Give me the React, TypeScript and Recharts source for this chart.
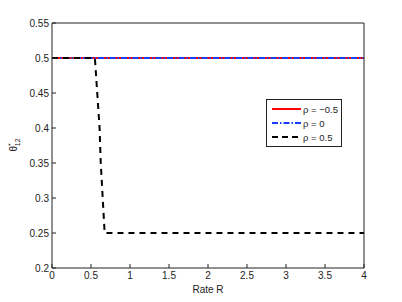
import { Line, LineChart, XAxis, YAxis, Legend, Label } from "recharts";

const rate = [0, 4];
const rhoNeg = [0.5, 0.5];
const rhoZero = [0.5, 0.5];
const rateBlack = [0, 0.55, 0.58, 0.61, 0.625, 0.65, 0.675, 4];
const rhoPos = [0.5, 0.5, 0.45, 0.4, 0.35, 0.3, 0.25, 0.25];
const xTicks = [0, 0.5, 1, 1.5, 2, 2.5, 3, 3.5, 4];
const yTicks = [0.2, 0.25, 0.3, 0.35, 0.4, 0.45, 0.5, 0.55];

const redData = rate.map((r, i) => ({ r, v: rhoNeg[i] }));
const blueData = rate.map((r, i) => ({ r, v: rhoZero[i] }));
const blackData = rateBlack.map((r, i) => ({ r, v: rhoPos[i] }));

const font = "'Liberation Sans', Arial, sans-serif";
const tickStyle = { fontSize: 10, fill: "#222", fontFamily: font };

const legendItems = [
  { label: "ρ = −0.5", color: "#ff0000", dash: undefined },
  { label: "ρ = 0", color: "#1a3cff", dash: "6 2 1.5 2" },
  { label: "ρ = 0.5", color: "#000", dash: "6 4" },
];

function LegendBox() {
  return (
    <div
      style={{
        border: "1px solid #222",
        background: "#fff",
        width: 74,
        height: 44,
        boxSizing: "content-box",
        padding: "2px 0 0 0",
        fontFamily: font,
        fontSize: 9.5,
        color: "#222",
        whiteSpace: "nowrap",
      }}
    >
      {legendItems.map((it) => (
        <div key={it.label} style={{ display: "flex", alignItems: "center", height: 14 }}>
          <svg width={36} height={8} style={{ flex: "none" }}>
            <line x1={5} y1={4} x2={34} y2={4} stroke={it.color} strokeWidth={2} strokeDasharray={it.dash} />
          </svg>
          <span>{it.label}</span>
        </div>
      ))}
    </div>
  );
}

export default function App() {
  return (
    <div style={{ position: "absolute", left: 0, top: 0, width: 402, height: 302, background: "#fff" }}>
      <LineChart width={402} height={302} margin={{ top: 22, right: 37, bottom: 14, left: 12 }}>
        <XAxis
          xAxisId="b"
          dataKey="r"
          type="number"
          domain={[0, 4]}
          ticks={xTicks}
          allowDuplicatedCategory={false}
          height={20}
          tickSize={-4}
          tickMargin={8}
          tick={tickStyle}
          stroke="#222"
          tickLine={{ stroke: "#222" }}
        >
          <Label value="Rate R" position="bottom" offset={-2} style={{ fontSize: 10, fill: "#222", fontFamily: font }} />
        </XAxis>
        <XAxis
          xAxisId="t"
          orientation="top"
          dataKey="r"
          type="number"
          domain={[0, 4]}
          ticks={xTicks}
          height={1}
          tickSize={-4}
          tickFormatter={() => ""}
          stroke="#222"
        />
        <YAxis
          yAxisId="l"
          type="number"
          domain={[0.2, 0.55]}
          ticks={yTicks}
          width={40}
          tickSize={-4}
          tickMargin={7}
          tick={tickStyle}
          tickFormatter={(v) => String(v)}
          stroke="#222"
        />
        <YAxis
          yAxisId="r"
          orientation="right"
          type="number"
          domain={[0.2, 0.55]}
          ticks={yTicks}
          width={1}
          tickSize={-4}
          tickFormatter={() => ""}
          stroke="#222"
        />
        <Line
          xAxisId="b"
          yAxisId="l"
          data={redData}
          dataKey="v"
          stroke="#ff0000"
          strokeWidth={2}
          dot={false}
          isAnimationActive={false}
        />
        <Line
          xAxisId="b"
          yAxisId="l"
          data={blueData}
          dataKey="v"
          stroke="#1a3cff"
          strokeWidth={2}
          strokeDasharray="6 2 1.5 2"
          dot={false}
          isAnimationActive={false}
        />
        <Line
          xAxisId="b"
          yAxisId="l"
          data={blackData}
          dataKey="v"
          stroke="#000"
          strokeWidth={2}
          strokeDasharray="6 5"
          dot={false}
          isAnimationActive={false}
        />
        <Legend
          layout="horizontal"
          verticalAlign="middle"
          align="center"
          content={() => <LegendBox />}
          wrapperStyle={{ left: 266, top: 99, width: 76, height: 46 }}
        />
        <text
          x={17}
          y={145}
          transform="rotate(-90 17 145)"
          textAnchor="middle"
          style={{ fontSize: 10, fill: "#222", fontFamily: font }}
        >
          θ
          <tspan dy={-4} fontSize={7}>*</tspan>
          <tspan dx={-3} dy={7} fontSize={7}>12</tspan>
        </text>
      </LineChart>
    </div>
  );
}
